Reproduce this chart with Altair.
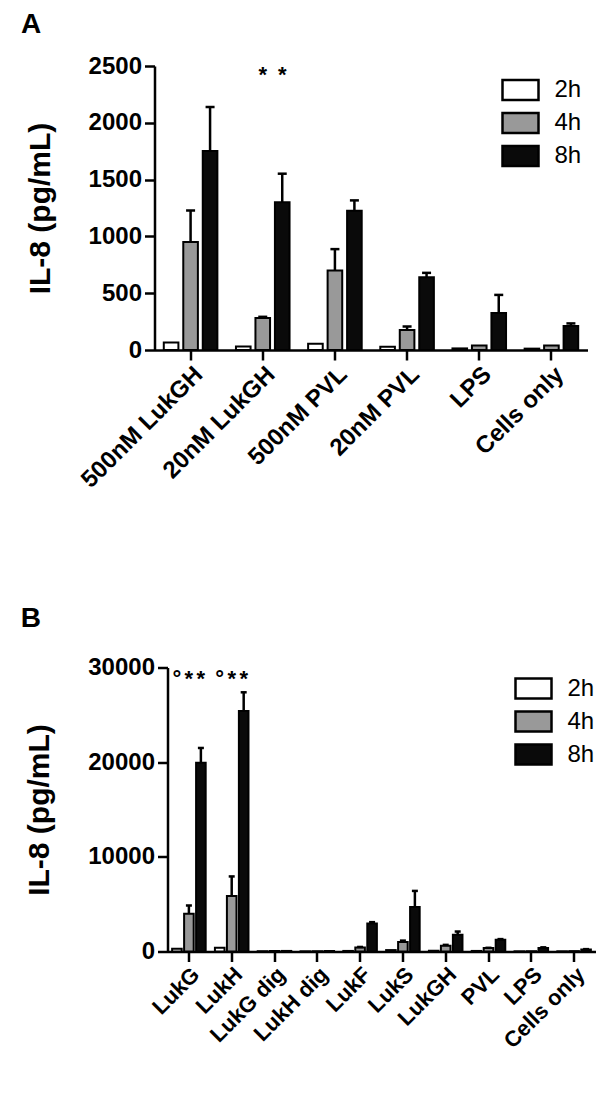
import altair as alt
import pandas as pd

FONT = "Liberation Sans"
times = ["2h", "4h", "8h"]
fill_colors = ["#ffffff", "#999999", "#0a0a0a"]

# ---- Panel A data ----
a_groups = ["500nM LukGH", "20nM LukGH", "500nM PVL", "20nM PVL", "LPS", "Cells only"]
a_2h = [65, 30, 55, 28, 14, 12]
a_4h = [950, 282, 700, 176, 40, 40]
a_8h = [1752, 1300, 1226, 641, 326, 212]
a_2h_err = [0, 0, 0, 0, 0, 0]
a_4h_err = [279, 10, 188, 30, 0, 0]
a_8h_err = [387, 252, 91, 38, 159, 22]
a_ticks = [0, 500, 1000, 1500, 2000, 2500]
a_ann_group = ["20nM LukGH", "20nM LukGH"]
a_ann_time = ["4h", "8h"]
a_ann_text = ["*", "*"]
a_ann_y = [2420, 2420]

# ---- Panel B data ----
b_groups = ["LukG", "LukH", "LukG dig", "LukH dig", "LukF", "LukS", "LukGH", "PVL", "LPS", "Cells only"]
b_2h = [300, 400, 30, 20, 60, 150, 80, 60, 20, 20]
b_4h = [4000, 5850, 50, 30, 420, 1000, 620, 360, 30, 40]
b_8h = [19950, 25400, 60, 50, 2950, 4700, 1770, 1250, 380, 220]
b_2h_err = [0, 0, 0, 0, 0, 0, 0, 0, 0, 0]
b_4h_err = [860, 2080, 0, 0, 60, 150, 80, 30, 0, 0]
b_8h_err = [1550, 1980, 0, 0, 150, 1700, 340, 60, 60, 30]
b_ticks = [0, 10000, 20000, 30000]
b_ann_group = ["LukG", "LukG", "LukG", "LukH", "LukH", "LukH"]
b_ann_time = ["2h", "4h", "8h", "2h", "4h", "8h"]
b_ann_text = ["°", "*", "*", "°", "*", "*"]
b_ann_y = [28800, 28800, 28800, 28800, 28800, 28800]


def make_df(groups, vals, errs):
    rows = []
    for t, vs, es in zip(times, vals, errs):
        for g, v, e in zip(groups, vs, es):
            rows.append({"group": g, "time": t, "value": v, "top": v + e, "err": e})
    return pd.DataFrame(rows)


def panel(groups, df, ann, ymax, ticks, width, height, label_size, cap, pad_in, sub_in,
          title, toffset, tdx, lx, ly):
    x = alt.X("group:N", sort=groups, title=None,
              scale=alt.Scale(paddingInner=pad_in, paddingOuter=pad_in / 2),
              axis=alt.Axis(labelAngle=-45, labelAlign="right", labelBaseline="top",
                            labelFontSize=label_size, labelPadding=2))
    xo = alt.XOffset("time:N", sort=times,
                     scale=alt.Scale(paddingInner=sub_in, paddingOuter=sub_in / 2))
    y = alt.Y("value:Q", title="IL-8 (pg/mL)",
              scale=alt.Scale(domain=[0, ymax], nice=False),
              axis=alt.Axis(values=ticks, format="d", titlePadding=33))
    fill = alt.Fill("time:N", sort=times,
                    scale=alt.Scale(domain=times, range=fill_colors),
                    legend=alt.Legend(title=None, orient="none", legendX=lx, legendY=ly,
                                      symbolType="M-1.8,-1L1.8,-1L1.8,1L-1.8,1Z",
                                      symbolSize=400, symbolStrokeColor="black",
                                      symbolStrokeWidth=2.5, labelFontSize=24,
                                      labelFont=FONT, labelColor="black",
                                      labelOffset=22, rowPadding=3, padding=0))
    bars = alt.Chart(df).mark_bar(stroke="black", strokeWidth=2).encode(
        x=x, xOffset=xo, y=y, fill=fill)
    edf = df[df["err"] > 0]
    rules = alt.Chart(edf).mark_rule(color="black", strokeWidth=2.5).encode(
        x=x, xOffset=xo, y="value:Q", y2="top:Q")
    caps = alt.Chart(edf).mark_tick(color="black", thickness=2.5, size=cap, opacity=1).encode(
        x=x, xOffset=xo, y="top:Q")
    txt = alt.Chart(ann).mark_text(font=FONT, fontSize=22, fontWeight="bold", color="black",
                                   baseline="middle").encode(
        x=x, xOffset=xo, y="y:Q", text="label:N")
    return alt.layer(bars, rules, caps, txt).properties(
        width=width, height=height,
        title=alt.TitleParams(title, anchor="start", frame="bounds", fontSize=28,
                              font=FONT, fontWeight="bold", color="black",
                              offset=toffset, dx=tdx))


def spacer():
    # invisible 1px cell so that each panel is laid out by its outer edge
    return alt.Chart(pd.DataFrame({"v": [0]})).mark_point(opacity=0, size=1).encode(
        x=alt.value(0), y=alt.value(0)).properties(width=1, height=1)


df_a = make_df(a_groups, [a_2h, a_4h, a_8h], [a_2h_err, a_4h_err, a_8h_err])
df_b = make_df(b_groups, [b_2h, b_4h, b_8h], [b_2h_err, b_4h_err, b_8h_err])
ann_a = pd.DataFrame({"group": a_ann_group, "time": a_ann_time, "label": a_ann_text, "y": a_ann_y})
ann_b = pd.DataFrame({"group": b_ann_group, "time": b_ann_time, "label": b_ann_text, "y": b_ann_y})

pa = panel(a_groups, df_a, ann_a, 2500, a_ticks, 433, 284, 24, 9, 0.19, 0.25, "A",
           15, -4, 489, 12)
pb = panel(b_groups, df_b, ann_b, 30000, b_ticks, 428, 284, 22, 6, 0.16, 0.2, "B",
           23, -4, 502, 9)

wa = alt.hconcat(spacer(), pa, spacing=0)
wb = alt.hconcat(spacer(), pb, spacing=0)

chart = alt.vconcat(wa, wb, spacing=111.5).resolve_scale(
    x="independent", xOffset="independent", y="independent"
).resolve_legend(fill="independent").properties(
    padding={"left": 10.5, "top": 3, "right": 5, "bottom": 5}
).configure_view(stroke=None).configure_axis(
    domainColor="black", domainWidth=2.5, tickColor="black", tickWidth=2.5, tickSize=10,
    labelFont=FONT, labelFontWeight="bold", labelFontSize=24, labelColor="black",
    titleFont=FONT, titleFontWeight="bold", titleFontSize=30, titleColor="black",
    grid=False, labelPadding=3
).configure_axisX(labelPadding=2)

chart.save("out.html", embed_options={"renderer": "svg", "actions": False})
